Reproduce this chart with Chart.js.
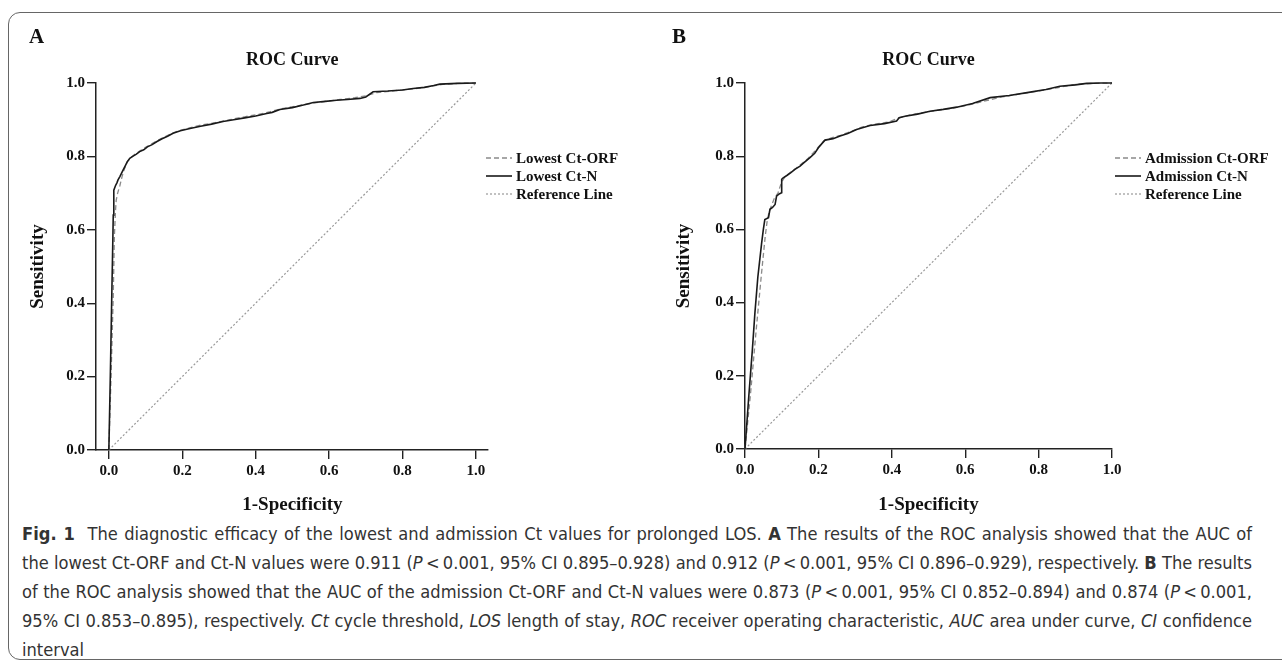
<!DOCTYPE html>
<html>
<head>
<meta charset="utf-8">
<script src="https://cdn.jsdelivr.net/npm/chart.js@4.4.1/dist/chart.umd.min.js"></script>
<style>
  body { margin: 0; background: #fff; width: 1282px; height: 664px; overflow: hidden; position: relative; }
  #frame { position: absolute; left: 8px; top: 12px; width: 1300px; height: 646px; border: 1.5px solid #666; border-radius: 12px; }
  canvas { position: absolute; top: 0; }
  #caption { position: absolute; left: 22px; top: 520px; font-family: "Liberation Sans Narrow", "DejaVu Sans Condensed", "Open Sans", sans-serif; font-size: 17px; line-height: 29px; color: #333; transform-origin: 0 0; }
  #caption .ln { white-space: nowrap; }
  #caption .ln.j { text-align: justify; text-align-last: justify; }
</style>
</head>
<body>
<div id="frame"></div>
<canvas id="chartA" width="640" height="520" style="left:0"></canvas>
<canvas id="chartB" width="640" height="520" style="left:640px"></canvas>
<div id="caption">
  <div class="ln j"><span><b>Fig. 1</b>&nbsp; The diagnostic efficacy of the lowest and admission Ct values for prolonged LOS. <b>A</b> The results of the ROC analysis showed that the AUC of</span></div>
  <div class="ln j"><span>the lowest Ct-ORF and Ct-N values were 0.911 (<i>P</i>&thinsp;&lt;&thinsp;0.001, 95% CI 0.895–0.928) and 0.912 (<i>P</i>&thinsp;&lt;&thinsp;0.001, 95% CI 0.896–0.929), respectively. <b>B</b> The results</span></div>
  <div class="ln j"><span>of the ROC analysis showed that the AUC of the admission Ct-ORF and Ct-N values were 0.873 (<i>P</i>&thinsp;&lt;&thinsp;0.001, 95% CI 0.852–0.894) and 0.874 (<i>P</i>&thinsp;&lt;&thinsp;0.001,</span></div>
  <div class="ln j"><span>95% CI 0.853–0.895), respectively. <i>Ct</i> cycle threshold, <i>LOS</i> length of stay, <i>ROC</i> receiver operating characteristic, <i>AUC</i> area under curve, <i>CI</i> confidence</span></div>
  <div class="ln"><span>interval</span></div>
</div>
<script>
// ticks shared by both panels
var tickValues = [0, 0.2, 0.4, 0.6, 0.8, 1.0];

// Panel A - lowest Ct values
var lowestOrfX = [0, 0.006, 0.012, 0.015, 0.018, 0.020, 0.024, 0.030, 0.036, 0.042, 0.050, 0.060, 0.070, 0.085, 0.100, 0.115, 0.130, 0.150, 0.170, 0.190, 0.220, 0.250, 0.290, 0.330, 0.370, 0.410, 0.440, 0.470, 0.510, 0.550, 0.590, 0.630, 0.670, 0.700, 0.730, 0.780, 0.830, 0.870, 0.910, 0.950, 1.0];
var lowestOrfY = [0, 0.20, 0.42, 0.58, 0.65, 0.68, 0.70, 0.72, 0.745, 0.765, 0.785, 0.797, 0.805, 0.815, 0.825, 0.833, 0.842, 0.852, 0.862, 0.870, 0.878, 0.885, 0.892, 0.900, 0.908, 0.915, 0.922, 0.930, 0.937, 0.944, 0.950, 0.955, 0.960, 0.965, 0.974, 0.979, 0.984, 0.990, 0.996, 0.999, 1.0];
var lowestNX = [0, 0.004, 0.008, 0.011, 0.012, 0.013, 0.014, 0.018, 0.022, 0.025, 0.030, 0.035, 0.039, 0.045, 0.050, 0.057, 0.065, 0.075, 0.084, 0.095, 0.105, 0.118, 0.130, 0.145, 0.160, 0.175, 0.195, 0.221, 0.250, 0.280, 0.311, 0.340, 0.370, 0.400, 0.430, 0.445, 0.466, 0.500, 0.530, 0.557, 0.590, 0.620, 0.650, 0.684, 0.700, 0.720, 0.760, 0.800, 0.829, 0.860, 0.885, 0.902, 0.950, 1.0];
var lowestNY = [0, 0.20, 0.42, 0.58, 0.64, 0.68, 0.708, 0.72, 0.728, 0.736, 0.745, 0.755, 0.763, 0.775, 0.785, 0.795, 0.800, 0.806, 0.813, 0.818, 0.826, 0.832, 0.840, 0.848, 0.855, 0.863, 0.870, 0.876, 0.882, 0.888, 0.895, 0.900, 0.905, 0.910, 0.917, 0.920, 0.928, 0.933, 0.940, 0.947, 0.950, 0.953, 0.955, 0.958, 0.962, 0.976, 0.978, 0.981, 0.985, 0.988, 0.993, 0.997, 0.999, 1.0];

// Panel B - admission Ct values
var admOrfX = [0, 0.015, 0.030, 0.045, 0.055, 0.060, 0.065, 0.072, 0.080, 0.090, 0.100, 0.110, 0.125, 0.140, 0.155, 0.170, 0.185, 0.200, 0.215, 0.235, 0.260, 0.290, 0.320, 0.350, 0.390, 0.420, 0.450, 0.490, 0.530, 0.570, 0.610, 0.650, 0.700, 0.750, 0.800, 0.850, 0.900, 0.950, 1.0];
var admOrfY = [0, 0.15, 0.32, 0.48, 0.58, 0.62, 0.645, 0.665, 0.685, 0.70, 0.73, 0.745, 0.757, 0.768, 0.780, 0.792, 0.808, 0.825, 0.842, 0.850, 0.857, 0.868, 0.880, 0.887, 0.893, 0.905, 0.913, 0.920, 0.926, 0.932, 0.940, 0.950, 0.962, 0.970, 0.978, 0.987, 0.996, 0.999, 1.0];
var admNX = [0, 0.010, 0.020, 0.027, 0.035, 0.045, 0.050, 0.054, 0.064, 0.068, 0.075, 0.082, 0.086, 0.093, 0.100, 0.100, 0.104, 0.115, 0.125, 0.136, 0.150, 0.160, 0.177, 0.190, 0.200, 0.210, 0.218, 0.240, 0.259, 0.280, 0.304, 0.320, 0.341, 0.380, 0.413, 0.420, 0.436, 0.470, 0.504, 0.540, 0.577, 0.620, 0.668, 0.720, 0.777, 0.820, 0.858, 0.900, 0.931, 0.970, 1.0];
var admNY = [0, 0.14, 0.27, 0.372, 0.47, 0.56, 0.60, 0.627, 0.632, 0.655, 0.660, 0.668, 0.691, 0.697, 0.70, 0.737, 0.741, 0.748, 0.755, 0.764, 0.773, 0.782, 0.796, 0.808, 0.823, 0.835, 0.844, 0.848, 0.855, 0.862, 0.873, 0.878, 0.884, 0.889, 0.896, 0.905, 0.909, 0.915, 0.923, 0.928, 0.934, 0.944, 0.960, 0.966, 0.975, 0.982, 0.991, 0.995, 0.999, 1.0, 1.0];

// diagonal
var refX = [0, 1];
var refY = [0, 1];

var SERIF = '"Liberation Serif", "Times New Roman", serif';

function pts(xs, ys) {
  return xs.map(function (x, i) { return { x: x, y: ys[i] }; });
}

// letter, title, axis titles and legend drawn around the plot
var panelText = {
  id: 'panelText',
  afterDraw: function (chart, args, o) {
    var ctx = chart.ctx, a = chart.chartArea;
    var xs = chart.scales.x;
    var mid = (xs.getPixelForValue(0) + xs.getPixelForValue(1)) / 2;
    ctx.save();
    ctx.fillStyle = '#111';
    ctx.textBaseline = 'middle';

    ctx.font = 'bold 21px ' + SERIF;
    ctx.textAlign = 'left';
    ctx.fillText(o.letter, o.letterX, 38);

    ctx.textAlign = 'center';
    ctx.font = 'bold 18px ' + SERIF;
    ctx.fillText('ROC Curve', mid, 60);

    ctx.font = 'bold 19px ' + SERIF;
    ctx.fillText('1-Specificity', mid, 505);

    ctx.save();
    ctx.translate(o.yTitleX, (a.top + a.bottom) / 2);
    ctx.rotate(-Math.PI / 2);
    ctx.fillText('Sensitivity', 0, 0);
    ctx.restore();

    // legend
    ctx.font = 'bold 15px ' + SERIF;
    ctx.textAlign = 'left';
    var rows = [chart.data.datasets[1], chart.data.datasets[0], chart.data.datasets[2]];
    rows.forEach(function (ds, i) {
      var y = 158 + i * 18;
      ctx.save();
      ctx.strokeStyle = ds.borderColor;
      ctx.lineWidth = ds.borderWidth;
      ctx.setLineDash(ds.borderDash || []);
      ctx.beginPath();
      ctx.moveTo(o.legendX, y);
      ctx.lineTo(o.legendX + 26, y);
      ctx.stroke();
      ctx.restore();
      ctx.fillText(ds.label, o.legendX + 30, y + 1);
    });
    ctx.restore();
  }
};

function makePanel(id, cfg) {
  var tickFont = { family: SERIF, size: 15, weight: 'bold' };
  return new Chart(document.getElementById(id), {
    type: 'scatter',
    data: {
      datasets: [
        { label: cfg.nLabel, data: pts(cfg.nX, cfg.nY), showLine: true, borderColor: '#1a1a1a', borderWidth: 1.6, pointRadius: 0, order: 0, clip: false },
        { label: cfg.orfLabel, data: pts(cfg.orfX, cfg.orfY), showLine: true, borderColor: '#8a8a8a', borderWidth: 1.3, borderDash: [5, 3], pointRadius: 0, order: 1, clip: false },
        { label: 'Reference Line', data: pts(refX, refY), showLine: true, borderColor: '#999', borderWidth: 1.2, borderDash: [2, 2], pointRadius: 0, order: 2, clip: false }
      ]
    },
    options: {
      responsive: false,
      animation: false,
      layout: { padding: cfg.padding },
      plugins: {
        legend: { display: false },
        tooltip: { enabled: false },
        panelText: cfg.text
      },
      scales: {
        x: {
          type: 'linear', min: cfg.xMin, max: cfg.xMax,
          afterBuildTicks: function (s) { s.ticks = tickValues.map(function (v) { return { value: v }; }); },
          afterFit: function (s) { s.height = 45; },
          grid: { drawOnChartArea: false, drawTicks: true, tickLength: 9, color: '#222', lineWidth: 1.4 },
          border: { display: true, color: '#222', width: 1.5 },
          ticks: { font: tickFont, color: '#111', padding: 3, maxRotation: 0, autoSkip: false, callback: function (v) { return v.toFixed(1); } }
        },
        y: {
          type: 'linear', min: 0, max: 1,
          afterBuildTicks: function (s) { s.ticks = tickValues.map(function (v) { return { value: v }; }); },
          afterFit: function (s) { s.width = 45; },
          grid: { drawOnChartArea: false, drawTicks: true, tickLength: 9, color: '#222', lineWidth: 1.4 },
          border: { display: true, color: '#222', width: 1.5 },
          ticks: { font: tickFont, color: '#111', padding: 2, autoSkip: false, callback: function (v) { return v.toFixed(1); } }
        }
      }
    },
    plugins: [panelText]
  });
}

makePanel('chartA', {
  nLabel: 'Lowest Ct-N', orfLabel: 'Lowest Ct-ORF',
  nX: lowestNX, nY: lowestNY, orfX: lowestOrfX, orfY: lowestOrfY,
  xMin: -0.035, xMax: 1.033,
  padding: { left: 51, right: 152, top: 83, bottom: 25 },
  text: { letter: 'A', letterX: 29, yTitleX: 38, legendX: 486 }
});

makePanel('chartB', {
  nLabel: 'Admission Ct-N', orfLabel: 'Admission Ct-ORF',
  nX: admNX, nY: admNY, orfX: admOrfX, orfY: admOrfY,
  xMin: 0, xMax: 1,
  padding: { left: 60, right: 168, top: 83, bottom: 26 },
  text: { letter: 'B', letterX: 32, yTitleX: 44, legendX: 475 }
});

// fit the caption lines to the justified column width
(function () {
  var cap = document.getElementById('caption');
  var lines = cap.querySelectorAll('.ln');
  var target = 1230, widest = 0;
  for (var i = 0; i < 4; i++) {
    widest = Math.max(widest, lines[i].firstElementChild.getBoundingClientRect().width);
  }
  var s = target / widest;
  cap.style.width = (target / s) + 'px';
  cap.style.transform = 'scaleX(' + s + ')';
})();
</script>
</body>
</html>
